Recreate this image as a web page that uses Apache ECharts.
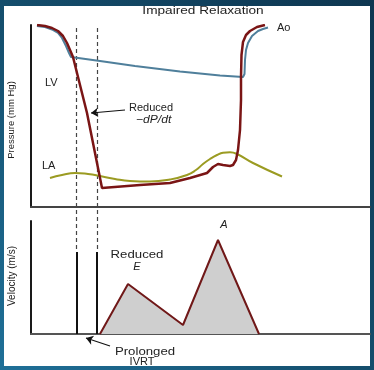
<!DOCTYPE html>
<html><head><meta charset="utf-8">
<script src="https://cdn.jsdelivr.net/npm/echarts@6/dist/echarts.min.js"></script>
<style>
html,body{margin:0;padding:0;width:374px;height:370px;overflow:hidden;background:linear-gradient(to bottom left,#0e3650 0%,#15506f 55%,#1f7098 100%);}
#panel{position:absolute;left:4px;top:6px;width:366px;height:360px;background:#fff;}
#chart{position:absolute;left:0;top:0;width:374px;height:370px;}
</style></head><body>
<div id="panel"></div><div id="chart"></div>
<script>
// time axis (arbitrary units), pressure (arbitrary schematic units), velocity (arbitrary units)
const lvCurve = [[6,182],[14,181],[21,179],[27,176],[32,171],[36,164],[39,157],[42,150],[49,122],[56,94],[63,59],[71,19],
  [109,22],[139,24],[159,29],[176,34],[182,40],[187,43],[192,42],[199,41],[202,42],[205,47],[207,57],[209,77],[210,107],
  [210,130],[210.5,152],[212,165],[215,172],[219,176],[226,180],[234,182]];
const aoCurve = [[6,181],[14,180],[21,177.5],[27,174],[31,169],[35,161],[38,154],[40,150],[69,146],[104,141],[149,135.5],
  [189,131.5],[212,130],[213.5,133],[214,147],[215,157],[217,164],[221,171],[227,176],[232,178],[237,179.5]];
const laCurve = [[19,29],[31,32],[44,34],[57,33],[69,31],[84,28],[99,26],[119,25.5],[139,27.5],[156,32],[165,37],[172,43],
  [179,48],[186,52],[192,54.3],[199,54.7],[206,53],[222,44],[251,30.5]];
const mitralFlow = [[69,0],[97,50],[152,9],[187,94],[228,0]];
const ivrtMarks = [45.5, 66];
const ivrtBarHeight = 82;

const chart = echarts.init(document.getElementById('chart'), null, {renderer:'canvas'});
const FONT = '"Liberation Sans", Arial, Helvetica, sans-serif';
function txt(text, x, y, o) {
  o = o || {};
  return {type:'text', x:x, y:y, rotation:o.rot||0, scaleX:o.sx||1, z:100,
    style:{text:text, fontSize:o.fs||11, fontFamily:FONT, fontStyle:o.it?'italic':'normal',
      fill:'#222', align:o.al||'left', verticalAlign:'middle'}};
}
const axisBase = (show, color) => ({type:'value', show:show, axisLine:{show:show, onZero:false, lineStyle:{color:color, width:2}},
  axisTick:{show:false}, axisLabel:{show:false}, splitLine:{show:false}});

const option = {
  animation:false,
  backgroundColor:'transparent',
  grid:[
    {left:31, right:4, top:25, bottom:163},
    {left:31, right:4, top:221, bottom:36},
    {left:31, right:4, top:0, bottom:0}
  ],
  xAxis:[
    Object.assign(axisBase(true,'#444'), {gridIndex:0, min:0, max:339}),
    Object.assign(axisBase(true,'#555'), {gridIndex:1, min:0, max:339}),
    Object.assign(axisBase(false,'#000'), {gridIndex:2, min:0, max:339})
  ],
  yAxis:[
    Object.assign(axisBase(true,'#1a1a1a'), {gridIndex:0, min:0, max:182}),
    Object.assign(axisBase(true,'#1a1a1a'), {gridIndex:1, min:0, max:113}),
    Object.assign(axisBase(false,'#000'), {gridIndex:2, min:0, max:370, inverse:true})
  ],
  series:[
    {type:'line', xAxisIndex:0, yAxisIndex:0, data:laCurve, smooth:true, symbol:'none',
      lineStyle:{color:'#9b9b22', width:2}},
    {type:'line', xAxisIndex:0, yAxisIndex:0, data:aoCurve, symbol:'none',
      lineStyle:{color:'#4f7f9b', width:2}},
    {type:'line', xAxisIndex:0, yAxisIndex:0, data:lvCurve, symbol:'none',
      lineStyle:{color:'#7a1515', width:2.5}},
    {type:'line', xAxisIndex:1, yAxisIndex:1, data:mitralFlow, symbol:'none',
      lineStyle:{color:'#701818', width:2}, areaStyle:{color:'#cfcfcf', opacity:1}},
    {type:'lines', coordinateSystem:'cartesian2d', xAxisIndex:1, yAxisIndex:1, symbol:'none',
      lineStyle:{color:'#111', width:2, opacity:1},
      data: ivrtMarks.map(t => ({coords:[[t,0],[t,ivrtBarHeight]]}))},
    {type:'lines', coordinateSystem:'cartesian2d', xAxisIndex:2, yAxisIndex:2, symbol:'none',
      lineStyle:{color:'#444', width:1.2, type:[4,3], opacity:1},
      data: ivrtMarks.map(t => ({coords:[[t,28],[t,252]]}))},
    {type:'lines', coordinateSystem:'cartesian2d', xAxisIndex:2, yAxisIndex:2, symbol:['none','arrow'], symbolSize:7,
      lineStyle:{color:'#111', width:1.2, opacity:1},
      data:[{coords:[[94,110],[60,113]]},{coords:[[79,346],[55,338]]}]}
  ],
  graphic:[
    txt('Impaired Relaxation', 203, 11, {al:'center', sx:1.24}),
    txt('Ao', 277, 28),
    txt('LV', 45, 83),
    txt('LA', 42, 166),
    txt('Reduced', 129, 108),
    txt('\u2212dP/dt', 136, 119.5, {it:true, sx:1.1}),
    txt('Reduced', 137, 255, {al:'center', sx:1.2}),
    txt('E', 137, 267, {al:'center', it:true}),
    txt('A', 224, 225, {al:'center', it:true}),
    txt('Prolonged', 145, 352, {al:'center', sx:1.2}),
    txt('IVRT', 142, 361.5, {al:'center'}),
    txt('Pressure (mm Hg)', 11, 120, {al:'center', rot:Math.PI/2, fs:9.5}),
    txt('Velocity (m/s)', 12, 276, {al:'center', rot:Math.PI/2, fs:10})
  ]
};
chart.setOption(option);
</script>
</body></html>
